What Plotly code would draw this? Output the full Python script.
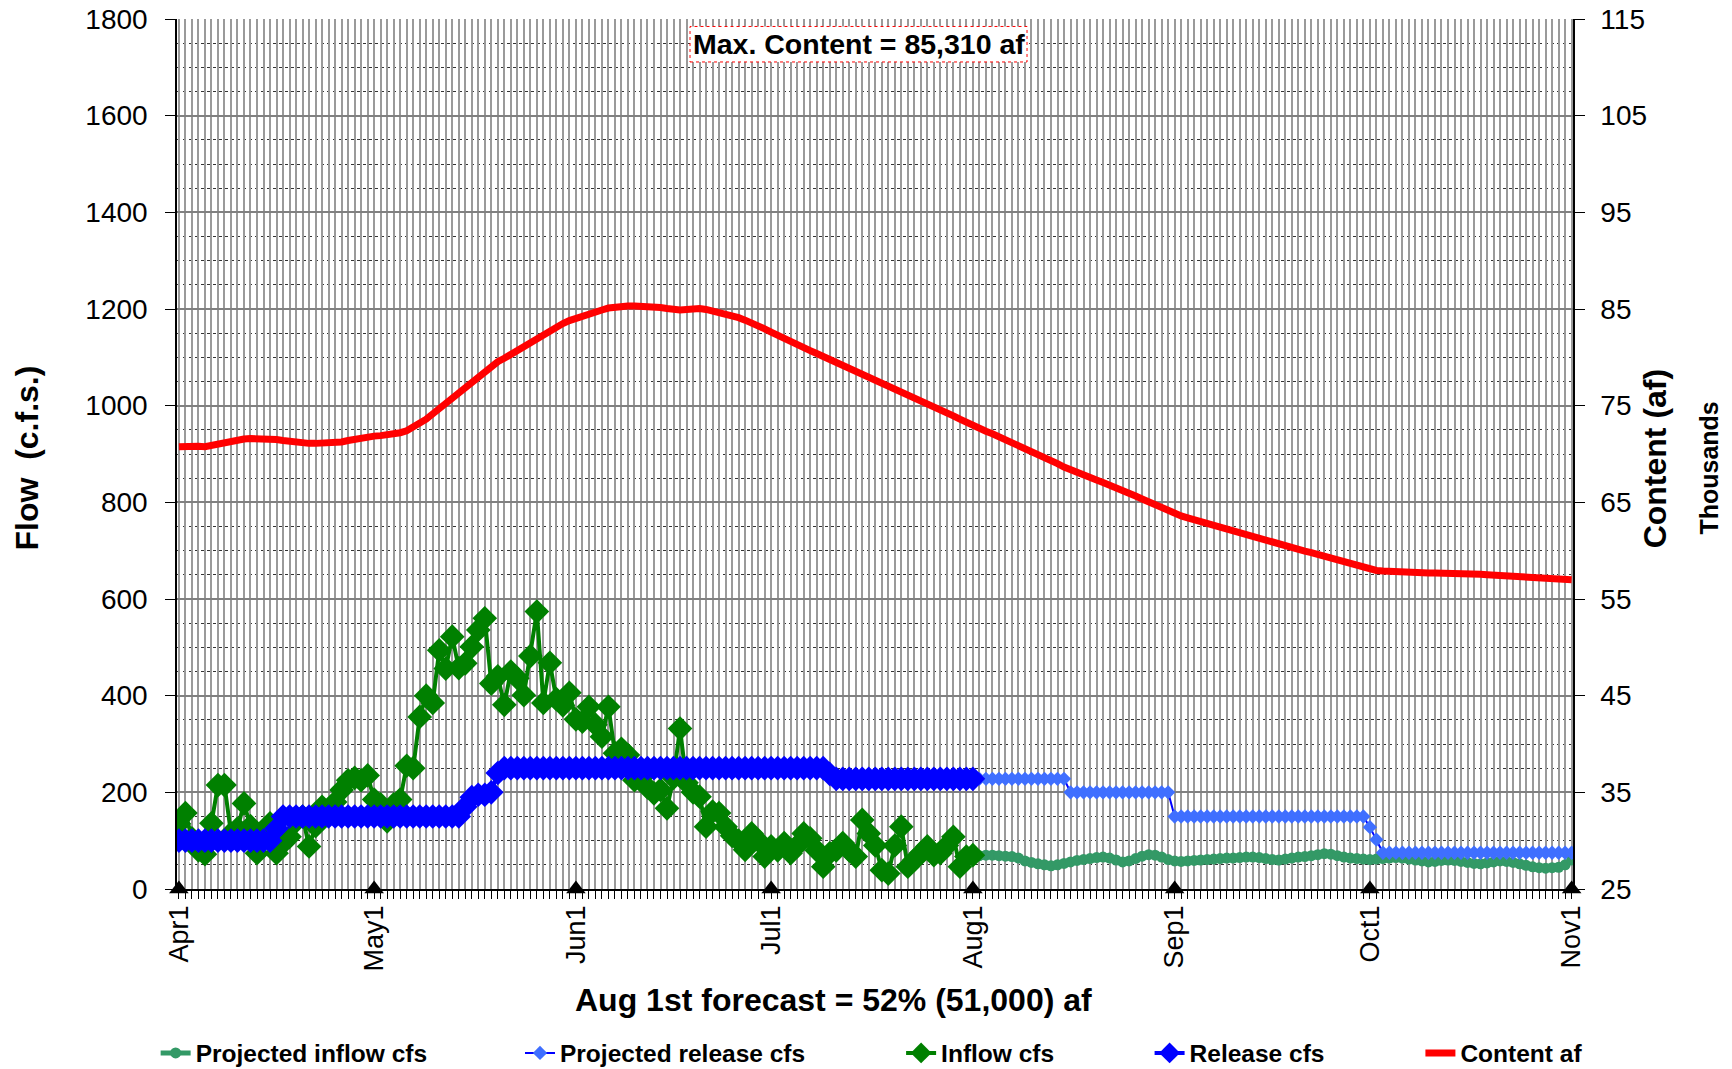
import plotly.graph_objects as go
import pandas as pd

# ---------------- data ----------------
dates = pd.date_range("2011-04-01", "2011-11-01", freq="D")  # Apr1 .. Nov1 (215 days)

# Observed inflow, cfs (Apr1 .. Aug1)
inflow_cfs = [
    135, 157, 105, 80, 72, 136, 215, 215, 115, 125, 177, 130, 74, 115, 136,
    74, 95, 108, 140, 150, 88, 130, 170, 165, 180, 205, 225, 230, 225, 235,
    185, 175, 140, 175, 185, 255, 250, 356, 400, 385, 494, 456, 522, 457, 467,
    501, 536, 560, 425, 440, 381, 450, 436, 401, 482, 574, 385, 468, 393, 380, 406,
    351, 346, 377, 340, 315, 377, 281, 290, 277, 225, 230, 210, 198, 205, 167,
    230, 332, 220, 200, 191, 129, 160, 157, 129, 110, 100, 81, 115, 100, 67,
    88, 80, 95, 74, 90, 115, 105, 80, 46, 74, 80, 95, 80, 67, 143, 115, 90,
    39, 32, 90, 129, 46, 60, 74, 88, 70, 74, 90, 108, 46, 67, 70,
]

release_cfs = (
    [100] * 15 + [125] + [150] * 28 + [170, 190, 195, 195, 200, 240]
    + [250] * 50 + [238] + [228] * 22
)

# Projected inflow, cfs (Aug1 .. Nov1)
proj_inflow_cfs = [
    66, 69, 70, 70, 69, 68, 67, 64, 58, 55, 52, 50, 48, 50, 53, 56, 59, 61, 63,
    65, 66, 64, 60, 56, 58, 63, 68, 71, 70, 66, 61,
    58, 57, 58, 59, 60, 61, 62, 63, 64, 64, 65, 66, 66, 65, 63, 61, 60, 62, 64,
    66, 67, 69, 71, 73, 72, 69, 66, 64, 63, 62,
    61, 62, 63, 64, 65, 64, 62, 60, 58, 56, 57, 59, 60, 59, 57, 55, 53, 52, 54,
    56, 58, 57, 55, 52, 49, 46, 44, 43, 44, 45, 50, 60,
]

# Projected release, cfs (Aug1 .. Nov1)
proj_release_cfs = [228] * 15 + [200] * 16 + [150] * 30 + [128, 102] + [75] * 30

# Reservoir content, thousand af (Apr1 .. Nov1)
content_kaf = [
    70.75, 70.80, 70.85, 70.80, 70.75, 70.90, 71.10, 71.25, 71.35, 71.45,
    71.55, 71.60, 71.60, 71.65, 71.60, 71.50, 71.40, 71.30, 71.25, 71.20,
    71.10, 71.10, 71.10, 71.10, 71.15, 71.25, 71.40, 71.55, 71.65, 71.75,
    71.85, 71.90, 71.95, 72.00, 72.20, 72.40, 72.75, 73.15, 73.60, 74.15,
    74.70, 75.25, 75.80, 76.35, 76.85, 77.40, 78.00, 78.60, 79.15, 79.55,
    79.90, 80.30, 80.70, 81.10, 81.60, 82.05, 82.50, 82.85, 83.20, 83.50,
    83.80, 84.05, 84.25, 84.45, 84.70, 84.90, 85.10, 85.20, 85.25, 85.30,
    85.31, 85.30, 85.25, 85.20, 85.15, 85.05, 84.95, 84.90, 84.95, 85.05,
    85.05, 84.95, 84.80, 84.65, 84.50, 84.30, 84.10, 83.85, 83.60, 83.30,
    82.95, 82.60, 82.25, 81.95, 81.65, 81.30, 81.00, 80.70, 80.40, 80.10,
    79.80, 79.50, 79.15, 78.85, 78.55, 78.25, 78.00, 77.70, 77.35, 77.05,
    76.75, 76.40, 76.10, 75.80, 75.45, 75.15, 74.85, 74.55, 74.25, 73.95,
    73.60, 73.25, 72.90, 72.65, 72.35, 72.10, 71.80, 71.55, 71.25, 70.95,
    70.65, 70.30, 70.00, 69.65, 69.35, 69.00, 68.65, 68.35, 68.05, 67.80,
    67.55, 67.30, 67.05, 66.80, 66.50, 66.25, 65.95, 65.65, 65.35, 65.05,
    64.70, 64.40, 64.10, 63.80, 63.60, 63.40, 63.20, 63.00, 62.80, 62.60,
    62.40, 62.20, 62.05, 61.85, 61.65, 61.45, 61.30, 61.10, 60.90, 60.70,
    60.55, 60.35, 60.15, 59.95, 59.80, 59.60, 59.40, 59.20, 59.00, 58.80,
    58.60, 58.40, 58.20, 58.05, 57.95, 57.90, 57.85, 57.85, 57.80, 57.80,
    57.75, 57.75, 57.70, 57.70, 57.70, 57.65, 57.65, 57.60, 57.60, 57.55,
    57.55, 57.50, 57.45, 57.45, 57.40, 57.35, 57.35, 57.30, 57.25, 57.25,
    57.20, 57.15, 57.10, 57.05, 57.00,
]

month_marks = ["2011-04-01", "2011-05-01", "2011-06-01", "2011-07-01",
               "2011-08-01", "2011-09-01", "2011-10-01", "2011-11-01"]
month_mark_vals = [0] * len(month_marks)

n_obs = len(inflow_cfs)
obs_dates = dates[:n_obs]
proj_dates = dates[n_obs - 1:]
assert len(release_cfs) == n_obs
assert len(proj_inflow_cfs) == len(proj_dates), (len(proj_inflow_cfs), len(proj_dates))
assert len(proj_release_cfs) == len(proj_dates)
assert len(content_kaf) == len(dates)

tick_text = [f"{d.strftime('%b')}{d.day}" if d.day == 1 else "" for d in dates]

FONT = "Liberation Sans, Arial, sans-serif"

fig = go.Figure()

fig.add_trace(go.Scatter(
    x=proj_dates, y=proj_inflow_cfs, name="Projected inflow cfs", mode="lines+markers",
    line=dict(color="#339966", width=5), marker=dict(symbol="circle", size=11, color="#339966"),
    legend="legend"))
fig.add_trace(go.Scatter(
    x=proj_dates, y=proj_release_cfs, name="Projected release cfs", mode="lines+markers",
    line=dict(color="#0000FF", width=2), marker=dict(symbol="diamond", size=11, color="#3F6FFF"),
    legend="legend2"))
fig.add_trace(go.Scatter(
    x=obs_dates, y=inflow_cfs, name="Inflow cfs", mode="lines+markers",
    line=dict(color="#008000", width=4), marker=dict(symbol="diamond", size=19, color="#008000"),
    legend="legend3"))
fig.add_trace(go.Scatter(
    x=obs_dates, y=release_cfs, name="Release cfs", mode="lines+markers",
    line=dict(color="#0000FF", width=4), marker=dict(symbol="diamond", size=19, color="#0000FF"),
    legend="legend4"))
fig.add_trace(go.Scatter(
    x=dates, y=content_kaf, name="Content af", mode="lines", yaxis="y2",
    line=dict(color="#FF0000", width=7), legend="legend5"))
fig.add_trace(go.Scatter(
    x=pd.to_datetime(month_marks), y=month_mark_vals, mode="markers", showlegend=False,
    marker=dict(symbol="triangle-up", size=17, color="black"), cliponaxis=False))

leg_common = dict(orientation="h", yanchor="middle", y=-0.1885, xanchor="left",
                  bgcolor="rgba(0,0,0,0)", borderwidth=0, tracegroupgap=0,
                  font=dict(family=FONT, size=24.5, color="black", weight="bold"))
legend_x = [-0.0153, 0.2457, 0.5187, 0.6967, 0.8907]

fig.update_layout(
    width=1732, height=1069,
    margin=dict(l=177, r=159, t=19, b=180, autoexpand=False),
    plot_bgcolor="white", paper_bgcolor="white",
    font=dict(family=FONT, color="black"),
    showlegend=True,
    legend=dict(x=legend_x[0], **leg_common),
    legend2=dict(x=legend_x[1], **leg_common),
    legend3=dict(x=legend_x[2], **leg_common),
    legend4=dict(x=legend_x[3], **leg_common),
    legend5=dict(x=legend_x[4], **leg_common),
    xaxis=dict(
        range=["2011-03-31 17:00", "2011-11-01 05:00"],
        tickmode="array", tickvals=dates, ticktext=tick_text, tickangle=-90,
        ticks="outside", ticklen=8, tickcolor="black", tickwidth=1,
        tickfont=dict(family=FONT, size=27, color="black"),
        ticklabelstandoff=-4, ticklabeloverflow="allow",
        showgrid=True, gridcolor="#9a9a9a", gridwidth=1.5,
        showline=True, linecolor="black", linewidth=1.5, zeroline=False,
        automargin=False,
    ),
    yaxis=dict(
        range=[0, 1800], dtick=200, tick0=0,
        ticks="outside", ticklen=10, tickcolor="black",
        tickfont=dict(family=FONT, size=28, color="black"),
        ticklabelstandoff=12, ticklabeloverflow="allow",
        showgrid=True, gridcolor="#808080", gridwidth=1.5,
        minor=dict(dtick=50, showgrid=True, gridcolor="#333333", griddash="dot", gridwidth=1),
        showline=True, linecolor="black", linewidth=1.5, zeroline=False,
        automargin=False,
    ),
    yaxis2=dict(
        range=[25, 115], dtick=10, tick0=25, overlaying="y", side="right",
        ticks="outside", ticklen=10, tickcolor="black",
        tickfont=dict(family=FONT, size=28, color="black"),
        ticklabelstandoff=10, ticklabeloverflow="allow",
        showgrid=False, showline=True, linecolor="black", linewidth=1.5, zeroline=False,
        automargin=False,
    ),
)

# Max content box
fig.add_shape(type="rect", xref="paper", yref="paper", x0=0.3675, x1=0.6089, y0=0.9506, y1=0.9914,
              line=dict(color="red", width=1, dash="dot"), fillcolor="white", layer="above")
fig.add_annotation(xref="paper", yref="paper", x=0.4882, y=0.9710, xanchor="center", yanchor="middle",
                   showarrow=False, text="Max. Content = 85,310 af",
                   font=dict(family=FONT, size=28.5, color="black", weight="bold"))

# Axis titles
fig.add_annotation(xref="paper", yref="paper", x=0.4706, y=-0.1276, xanchor="center", yanchor="middle",
                   showarrow=False, text="Aug 1st forecast = 52% (51,000) af",
                   font=dict(family=FONT, size=32, color="black", weight="bold"))
fig.add_annotation(xref="paper", yref="paper", x=-0.1078, y=0.4954, xanchor="center", yanchor="middle",
                   showarrow=False, textangle=-90, text="Flow  (c.f.s.)",
                   font=dict(family=FONT, size=32, color="black", weight="bold"))
fig.add_annotation(xref="paper", yref="paper", x=1.0590, y=0.4954, xanchor="center", yanchor="middle",
                   showarrow=False, textangle=-90, text="Content (af)",
                   font=dict(family=FONT, size=32, color="black", weight="bold"))
fig.add_annotation(xref="paper", yref="paper", x=1.0972, y=0.4840, xanchor="center", yanchor="middle",
                   showarrow=False, textangle=-90, text="Thousands",
                   font=dict(family=FONT, size=25, color="black", weight="bold"))

# remove the default page margin so the figure fills the window exactly; hide the modebar
fig.write_html("out.html", config={"displayModeBar": False},
               post_script="document.body.style.margin='0';")
